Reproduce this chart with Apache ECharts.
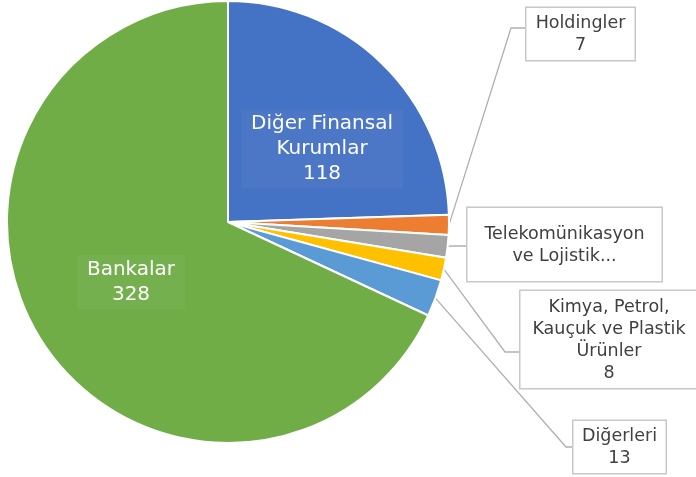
<!DOCTYPE html>
<html><head><meta charset="utf-8">
<script src="https://cdn.jsdelivr.net/npm/echarts@6/dist/echarts.min.js"></script>
<style>html,body{margin:0;padding:0;background:#fff}#c{width:696px;height:477px}</style>
</head><body><div id="c"></div>
<script>
var categories = ['Diğer Finansal\nKurumlar', 'Holdingler', 'Telekomünikasyon\nve Lojistik...', 'Kimya, Petrol,\nKauçuk ve Plastik\nÜrünler', 'Diğerleri', 'Bankalar'];
var values = [118, 7, 8, 8, 13, 328];
var showValue = [true, true, false, true, true, true];
var colors = ['#4472C4', '#ED7D31', '#A5A5A5', '#FFC000', '#5B9BD5', '#70AD47'];

// outside label boxes: left, top, width, vertical padding, leader-line y offset from top
var boxes = {
  1: {x: 525, y: 8, w: 111, pad: [4, 4], ly: 20},
  2: {x: 466, y: 208, w: 197, pad: [15, 14], ly: 38},
  3: {x: 519, y: 291, w: 180, pad: [5, 4], ly: 61},
  4: {x: 572, y: 421, w: 95, pad: [4, 4], ly: 26}
};

var data = categories.map(function (name, i) {
  var item = {name: name, value: values[i], itemStyle: {color: colors[i]}};
  if (i === 0 || i === 5) {
    item.label = {
      position: 'inside', color: '#fff', fontSize: 20, lineHeight: 25,
      backgroundColor: 'rgba(255,255,255,0.04)', padding: [2, 10]
    };
    item.labelLine = {show: false};
  } else {
    var b = boxes[i];
    item.label = {
      position: 'outside', color: '#404040', fontSize: 17.5, lineHeight: 22,
      backgroundColor: '#fff', borderColor: '#c8c8c8', borderWidth: 1.5,
      width: b.w - 3, padding: [b.pad[0], 0, b.pad[1], 0], align: 'center'
    };
    item.labelLine = {show: true, length: 10, length2: 8, lineStyle: {color: '#b0b0b0', width: 1.3}};
  }
  return item;
});

var chart = echarts.init(document.getElementById('c'));
chart.setOption({
  animation: false,
  series: [{
    type: 'pie',
    center: [228, 222],
    radius: [0, 221],
    startAngle: 90,
    clockwise: true,
    avoidLabelOverlap: false,
    itemStyle: {borderColor: '#fff', borderWidth: 2},
    label: {
      fontFamily: 'DejaVu Sans',
      formatter: function (p) { return showValue[p.dataIndex] ? p.name + '\n' + p.value : p.name; }
    },
    labelLayout: function (params) {
      var i = params.dataIndex;
      if (i === 0) return {x: 322, y: 149, align: 'center', verticalAlign: 'middle'};
      if (i === 5) return {x: 131, y: 282, align: 'center', verticalAlign: 'middle'};
      var b = boxes[i];
      var res = {x: b.x + b.w / 2, y: b.y, align: 'center', verticalAlign: 'top'};
      if (params.labelLinePoints) {
        var p0 = params.labelLinePoints[0];
        var ly = b.y + b.ly;
        res.labelLinePoints = [p0, [b.x - (i === 4 ? 6 : 14), ly], [b.x, ly]];
      }
      return res;
    },
    data: data
  }]
});
</script></body></html>
